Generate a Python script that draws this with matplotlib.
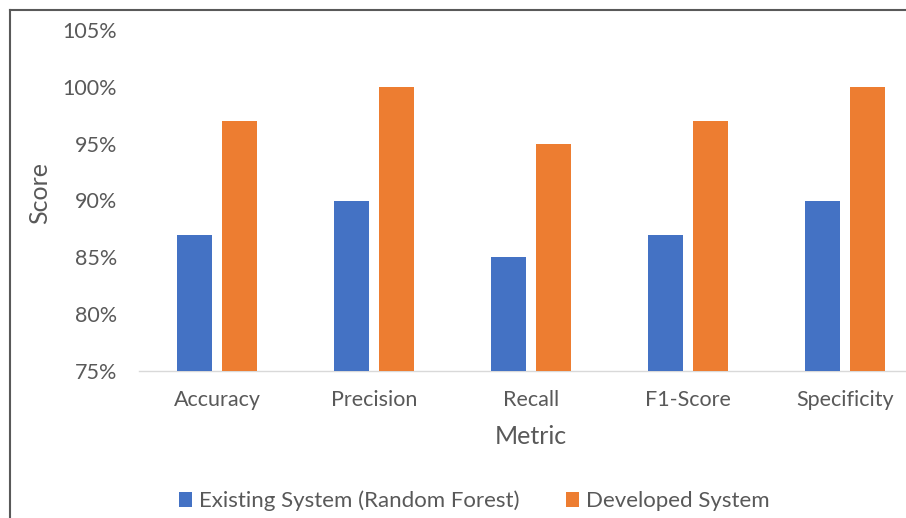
import matplotlib
matplotlib.use("Agg")
import matplotlib.pyplot as plt
from matplotlib.patches import Patch
from matplotlib.lines import Line2D
from matplotlib.ticker import FuncFormatter, MultipleLocator
import numpy as np

metrics = ["Accuracy", "Precision", "Recall", "F1-Score", "Specificity"]
existing = [87, 90, 85, 87, 90]
developed = [97, 100, 95, 97, 100]
series_names = ["Existing System (Random Forest)", "Developed System"]
colors = ["#4472C4", "#ED7D31"]

plt.rcParams["font.family"] = ["Lato", "DejaVu Sans"]
text_color = "#595959"

W, H = 906, 518
fig = plt.figure(figsize=(W / 100, H / 100), dpi=100)

# plot area in pixel coordinates (extends slightly past the right edge)
x0, x1, y_top, y_bot = 139, 923, 30, 371
ax = fig.add_axes([x0 / W, 1 - y_bot / H, (x1 - x0) / W, (y_bot - y_top) / H])

x = np.arange(len(metrics))
bw = 35 / 157
gap = 10 / 157
ax.bar(x - (bw + gap) / 2, existing, bw, color=colors[0], zorder=3)
ax.bar(x + (bw + gap) / 2, developed, bw, color=colors[1], zorder=3)

ax.set_xlim(-0.5, len(metrics) - 0.5)
ax.set_ylim(75, 105)
ax.yaxis.set_major_locator(MultipleLocator(5))
ax.yaxis.set_major_formatter(FuncFormatter(lambda v, p: f"{v:.0f}%"))
ax.set_xticks(x)
ax.set_xticklabels(metrics)

for s in ["top", "right", "left"]:
    ax.spines[s].set_visible(False)
ax.spines["bottom"].set_color("#D9D9D9")
ax.spines["bottom"].set_linewidth(1.0)
ax.tick_params(axis="both", length=0, colors=text_color, labelsize=15.5)
ax.tick_params(axis="y", pad=16)
ax.tick_params(axis="x", pad=14)

fig.text(40 / W, 1 - 193 / H, "Score", rotation=90, ha="center", va="center",
         fontsize=18, color=text_color)
fig.text(531 / W, 1 - 437 / H, "Metric", ha="center", va="center",
         fontsize=18, color=text_color)

handles = [Patch(facecolor=c, edgecolor="none") for c in colors]
leg = fig.legend(handles, series_names, loc="center", ncol=2,
                 bbox_to_anchor=(474 / W, 1 - 501 / H), frameon=False,
                 fontsize=16, handlelength=0.6, handleheight=0.6,
                 handletextpad=0.3, columnspacing=2.1)
for t in leg.get_texts():
    t.set_color(text_color)

# chart frame on the top and left
fig.add_artist(Line2D([9.5 / W, 9.5 / W], [0, 1 - 9.5 / H], transform=fig.transFigure,
                      color="#595959", linewidth=1.5))
fig.add_artist(Line2D([9.5 / W, 1], [1 - 9.5 / H, 1 - 9.5 / H], transform=fig.transFigure,
                      color="#595959", linewidth=1.5))

fig.savefig("out.png", dpi=100)
